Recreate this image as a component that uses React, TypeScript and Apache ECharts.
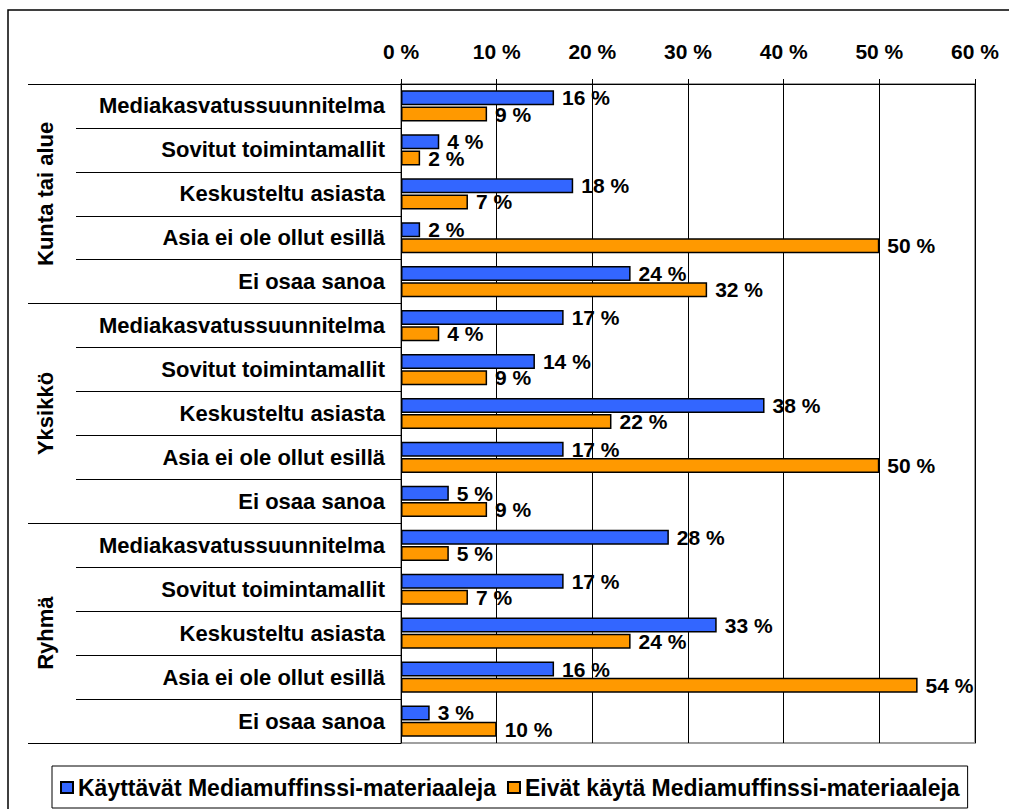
import React, { useEffect, useRef } from 'react';
import * as echarts from 'echarts';

const groups = ['Kunta tai alue', 'Yksikkö', 'Ryhmä'];
const subCategories = [
  'Mediakasvatussuunnitelma',
  'Sovitut toimintamallit',
  'Keskusteltu asiasta',
  'Asia ei ole ollut esillä',
  'Ei osaa sanoa',
];
const seriesNames = [
  'Käyttävät Mediamuffinssi-materiaaleja',
  'Eivät käytä Mediamuffinssi-materiaaleja',
];
// values in %, rows ordered group by group
const usersValues = [16, 4, 18, 2, 24, 17, 14, 38, 17, 5, 28, 17, 33, 16, 3];
const nonUsersValues = [9, 2, 7, 50, 32, 4, 9, 22, 50, 9, 5, 7, 24, 54, 10];
const xMin = 0;
const xMax = 60;
const xStep = 10;

export default function App() {
  const ref = useRef<HTMLDivElement>(null);
  useEffect(() => {
    const chart = echarts.init(ref.current!, null, { renderer: 'svg' });
    const font = '"Liberation Sans", Arial, sans-serif';
    const rows = groups.flatMap(() => subCategories);
    const labelStyle = {
      show: true,
      position: 'right',
      distance: 8,
      formatter: '{c} %',
      fontSize: 21,
      fontWeight: 'bold',
      color: '#000',
      fontFamily: font,
    };
    chart.setOption({
      animation: false,
      backgroundColor: '#fff',
      graphic: [
        {
          type: 'rect',
          silent: true,
          shape: { x: 8, y: 10, width: 1010, height: 810 },
          style: { fill: 'none', stroke: '#000', lineWidth: 1.5 },
        },
      ],
      grid: {
        left: 401,
        right: 34,
        top: 84,
        bottom: 66,
        show: true,
        borderColor: '#a0a0a0',
        borderWidth: 2,
        backgroundColor: 'transparent',
      },
      legend: {
        data: seriesNames,
        left: 52,
        top: 766,
        icon: 'rect',
        itemWidth: 12,
        itemHeight: 11,
        itemGap: 11,
        padding: [10, 8, 9, 8],
        borderColor: '#000',
        borderWidth: 1,
        textStyle: { fontSize: 23, fontWeight: 'bold', color: '#000', fontFamily: font },
      },
      xAxis: {
        type: 'value',
        position: 'top',
        min: xMin,
        max: xMax,
        interval: xStep,
        axisLine: { show: true, lineStyle: { color: '#000', width: 1 } },
        axisTick: { show: true, length: 5, lineStyle: { color: '#000' } },
        splitLine: { show: true, lineStyle: { color: '#000', width: 1 } },
        axisLabel: {
          formatter: '{value} %',
          fontSize: 21,
          fontWeight: 'bold',
          color: '#000',
          fontFamily: font,
          margin: 22,
        },
      },
      yAxis: [
        {
          type: 'category',
          data: rows,
          inverse: true,
          position: 'left',
          axisLine: { show: true, lineStyle: { color: '#000', width: 1 } },
          axisTick: { show: true, length: 325, interval: 0, lineStyle: { color: '#000' } },
          splitLine: { show: false },
          axisLabel: {
            interval: 0,
            fontSize: 22,
            fontWeight: 'bold',
            color: '#000',
            fontFamily: font,
            margin: 16,
          },
        },
        {
          type: 'category',
          data: groups,
          inverse: true,
          position: 'left',
          axisLine: { show: false },
          axisTick: { show: true, length: 373, interval: 0, lineStyle: { color: '#000' } },
          splitLine: { show: false },
          axisLabel: {
            rotate: 90,
            interval: 0,
            fontSize: 22,
            fontWeight: 'bold',
            color: '#000',
            fontFamily: font,
            margin: 345,
          },
        },
      ],
      series: [
        {
          type: 'bar',
          name: seriesNames[0],
          data: usersValues,
          yAxisIndex: 0,
          barWidth: 15,
          barGap: '8%',
          itemStyle: { color: '#3366FF', borderColor: '#000', borderWidth: 1.5 },
          label: labelStyle,
        },
        {
          type: 'bar',
          name: seriesNames[1],
          data: nonUsersValues,
          yAxisIndex: 0,
          barWidth: 15,
          barGap: '8%',
          itemStyle: { color: '#FF9900', borderColor: '#000', borderWidth: 1.5 },
          label: labelStyle,
        },
      ],
    });
    return () => chart.dispose();
  }, []);
  return (
    <div
      ref={ref}
      style={{ position: 'absolute', left: 0, top: 0, width: 1009, height: 809, background: '#fff' }}
    />
  );
}
